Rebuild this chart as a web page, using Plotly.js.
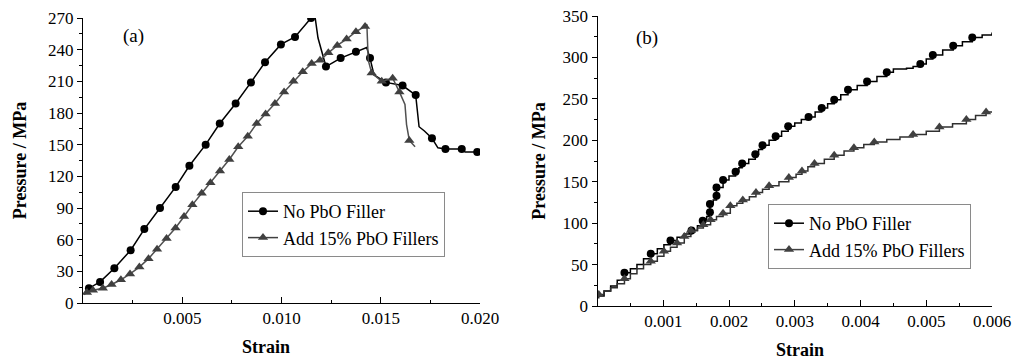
<!DOCTYPE html>
<html><head><meta charset="utf-8">
<script src="https://cdn.plot.ly/plotly-3.0.1.min.js"></script>
<style>html,body{margin:0;padding:0;background:#fff}#chart{width:1016px;height:363px}</style>
</head><body><div id="chart"></div>
<script>
// ---------- Panel (a): strain vs pressure (MPa) ----------
const seriesNames = ['No PbO Filler', 'Add 15% PbO Fillers'];

const aNoFillerLine = [[0.00005,8.5],[0.0003,14],[0.00086,20],[0.00158,33],[0.0024,50],[0.00309,70],[0.00388,90],[0.00467,110],[0.00536,130],[0.00618,150],[0.00689,170],[0.00769,189],[0.00846,209],[0.00917,228],[0.00997,245],[0.01068,252],[0.01149,270],[0.01169,271],[0.01184,251],[0.01209,233],[0.01224,224],[0.01298,232],[0.01375,238],[0.01429,242],[0.01446,232],[0.01466,216],[0.01526,209],[0.0161,206],[0.01676,197],[0.01686,182],[0.01693,167],[0.0172,163],[0.01758,156],[0.01788,147],[0.01826,146],[0.01908,146],[0.01925,143],[0.01986,143]];
const aNoFillerMarks = [[0.0003,14],[0.00086,20],[0.00158,33],[0.0024,50],[0.00309,70],[0.00388,90],[0.00467,110],[0.00536,130],[0.00618,150],[0.00689,170],[0.00769,189],[0.00846,209],[0.00917,228],[0.00997,245],[0.01068,252],[0.01149,270],[0.01224,224],[0.01298,232],[0.01375,238],[0.01446,232],[0.01526,209],[0.0161,206],[0.01676,197],[0.01758,156],[0.01826,146],[0.01908,146],[0.01986,143]];

const aPbOLine = [[0.00005,8],[0.0002,10],[0.0005,12],[0.001,14],[0.00144,17.5],[0.00191,22],[0.00237,27.5],[0.00284,34],[0.0033,42],[0.00373,51],[0.00421,61],[0.00466,71],[0.00509,82],[0.00551,93],[0.00598,104],[0.00642,114],[0.0069,125],[0.00737,136],[0.00782,148],[0.0083,158],[0.00875,170],[0.0092,179],[0.00967,189],[0.01013,200],[0.0106,210],[0.01107,219],[0.01152,227],[0.01194,230],[0.01236,237],[0.01281,244],[0.01328,250],[0.01375,257],[0.01421,262],[0.0143,264],[0.01437,230],[0.01454,218],[0.01505,210],[0.0156,213],[0.01594,200],[0.01622,188],[0.0163,169],[0.01644,154],[0.01673,148]];
const aPbOMarks = [[0.0002,10],[0.0005,12],[0.001,14],[0.00144,17.5],[0.00191,22],[0.00237,27.5],[0.00284,34],[0.0033,42],[0.00373,51],[0.00421,61],[0.00466,71],[0.00509,82],[0.00551,93],[0.00598,104],[0.00642,114],[0.0069,125],[0.00737,136],[0.00782,148],[0.0083,158],[0.00875,170],[0.0092,179],[0.00967,189],[0.01013,200],[0.0106,210],[0.01107,219],[0.01152,227],[0.01194,230],[0.01236,237],[0.01281,244],[0.01328,250],[0.01375,257],[0.01421,262],[0.01454,218],[0.01505,210],[0.0156,213],[0.01594,200],[0.01644,154]];

const aXTickVals = [0.005, 0.010, 0.015, 0.020];
const aXTickText = ['0.005', '0.010', '0.015', '0.020'];
const aYTickVals = [0, 30, 60, 90, 120, 150, 180, 210, 240, 270];

// ---------- Panel (b) ----------
const bNoFillerLine = [[0,12],[0.0001,18],[0.0002,24],[0.0003,31],[0.00041,40],[0.0005,45],[0.0006,50],[0.0007,57],[0.00081,63],[0.00091,69],[0.00101,74],[0.00111,79],[0.00121,83],[0.00132,87],[0.00143,91],[0.00152,97],[0.0016,103],[0.00166,108],[0.00171,113],[0.00171,123],[0.00176,128],[0.00181,133],[0.00181,143],[0.00191,152],[0.002,157],[0.0021,162],[0.00215,167],[0.0022,172],[0.0023,177],[0.0024,183],[0.00245,189],[0.00251,194],[0.00261,200],[0.00271,205],[0.0028,211],[0.0029,217],[0.003,221],[0.0031,225],[0.00321,228],[0.00331,234],[0.00341,239],[0.0035,244],[0.0036,249],[0.0037,255],[0.00381,261],[0.00395,266],[0.0041,271],[0.00425,277],[0.0044,282],[0.0045,286],[0.0047,287],[0.0048,289],[0.00491,292],[0.005,298],[0.0051,303],[0.00525,309],[0.00541,314],[0.00555,319],[0.0057,324],[0.00585,327],[0.006,330]];
const bNoFillerMarks = [[0.00041,40],[0.00081,63],[0.00111,79],[0.00143,91],[0.0016,103],[0.00171,113],[0.00171,123],[0.00181,133],[0.00181,143],[0.00191,152],[0.0021,162],[0.0022,172],[0.0024,183],[0.00251,194],[0.00271,205],[0.0029,217],[0.00321,228],[0.00341,239],[0.0036,249],[0.00381,261],[0.0041,271],[0.0044,282],[0.00491,292],[0.0051,303],[0.00541,314],[0.0057,324]];

const bPbOLine = [[0,10],[0.00002,14],[0.0001,18],[0.0002,22],[0.0003,27],[0.00041,33],[0.0005,39],[0.0006,45],[0.0007,50],[0.00081,54],[0.00091,60],[0.00101,66],[0.00111,71],[0.00121,76],[0.00132,84],[0.00142,91],[0.00152,94],[0.00161,98],[0.00172,104],[0.00181,108],[0.00191,112],[0.00202,121],[0.00212,124],[0.00221,128],[0.00231,132],[0.00241,137],[0.00251,141],[0.00261,145],[0.00276,150],[0.00291,155],[0.00302,159],[0.00311,163],[0.0032,168],[0.0033,172],[0.00345,177],[0.0036,182],[0.00375,187],[0.0039,191],[0.00405,195],[0.00421,198],[0.0044,201],[0.0046,204],[0.0048,207],[0.005,211],[0.0052,216],[0.0054,220],[0.00561,225],[0.00575,230],[0.00591,234],[0.006,235]];
const bPbOMarks = [[0.00002,14],[0.00041,33],[0.00081,54],[0.00101,66],[0.00121,76],[0.00132,84],[0.00142,91],[0.00161,98],[0.00172,104],[0.00191,112],[0.00202,121],[0.00221,128],[0.00241,137],[0.00261,145],[0.00291,155],[0.00311,163],[0.0033,172],[0.0036,182],[0.0039,191],[0.00421,198],[0.0048,207],[0.0052,216],[0.00561,225],[0.00591,234]];

const bXTickVals = [0.001, 0.002, 0.003, 0.004, 0.005, 0.006];
const bXTickText = ['0.001', '0.002', '0.003', '0.004', '0.005', '0.006'];
const bYTickVals = [0, 50, 100, 150, 200, 250, 300, 350];

// ---------- styling ----------
const FONT = 'Liberation Serif';
const BLACK = '#000000';
const GRAY = '#404040';
const xs = a => a.map(p => p[0]);
const ys = a => a.map(p => p[1]);

function lineTrace(d, color, xa, ya, shape) {
  return {x: xs(d), y: ys(d), xaxis: xa, yaxis: ya, mode: 'lines', showlegend: false,
          hoverinfo: 'skip', line: {color: color, width: 1.5, shape: shape || 'linear'}};
}
function markTrace(d, color, sym, size, xa, ya) {
  return {x: xs(d), y: ys(d), xaxis: xa, yaxis: ya, mode: 'markers', showlegend: false,
          marker: {color: color, symbol: sym, size: size}};
}
function legendTrace(name, color, sym, size, xa, ya, lg) {
  return {x: [null], y: [null], xaxis: xa, yaxis: ya, mode: 'lines+markers', name: name, legend: lg,
          line: {color: color, width: 1.5}, marker: {color: color, symbol: sym, size: size}};
}

const traces = [
  lineTrace(aNoFillerLine, BLACK, 'x', 'y'),
  markTrace(aNoFillerMarks, BLACK, 'circle', 8, 'x', 'y'),
  lineTrace(aPbOLine, '#505050', 'x', 'y'),
  markTrace(aPbOMarks, GRAY, 'triangle-up', 9, 'x', 'y'),
  legendTrace(seriesNames[0], BLACK, 'circle', 8, 'x', 'y', 'legend'),
  legendTrace(seriesNames[1], GRAY, 'triangle-up', 9, 'x', 'y', 'legend'),

  lineTrace(bNoFillerLine, BLACK, 'x2', 'y2', 'hv'),
  markTrace(bNoFillerMarks, BLACK, 'circle', 8, 'x2', 'y2'),
  lineTrace(bPbOLine, '#303030', 'x2', 'y2', 'hv'),
  markTrace(bPbOMarks, GRAY, 'triangle-up', 9, 'x2', 'y2'),
  legendTrace(seriesNames[0], BLACK, 'circle', 8, 'x2', 'y2', 'legend2'),
  legendTrace(seriesNames[1], GRAY, 'triangle-up', 9, 'x2', 'y2', 'legend2')
];

const W = 1016, H = 363;
const tickFont = {family: FONT, size: 17, color: '#000'};
const titleFont = {family: FONT, size: 18, color: '#000', weight: 'bold'};

function xAxis(domain, range, tv, tt, minorDt, anchor) {
  return {domain: domain, range: range, anchor: anchor, tickmode: 'array', tickvals: tv, ticktext: tt,
          ticks: 'inside', ticklen: 6, tickwidth: 1, tickcolor: '#000',
          minor: {ticks: 'inside', ticklen: 3, tickwidth: 1, tickcolor: '#000', tickmode: 'linear', tick0: 0, dtick: minorDt},
          showline: true, linecolor: '#000', linewidth: 1, showgrid: false, zeroline: false,
          tickfont: tickFont, automargin: false, fixedrange: true};
}
function yAxis(domain, range, tv, minorDt, anchor, standoff) {
  return {domain: domain, range: range, anchor: anchor, tickmode: 'array', tickvals: tv,
          ticks: 'outside', ticklen: 5, tickwidth: 1, tickcolor: '#000',
          minor: {ticks: 'outside', ticklen: 3, tickwidth: 1, tickcolor: '#000', tickmode: 'linear', tick0: 0, dtick: minorDt},
          showline: true, linecolor: '#000', linewidth: 1, showgrid: false, zeroline: false,
          tickfont: tickFont, automargin: false, fixedrange: true,
          title: {text: 'Pressure / MPa', font: titleFont, standoff: standoff}};
}

const legendBase = {xanchor: 'left', yanchor: 'top', bgcolor: '#fff', bordercolor: '#8a8a8a', borderwidth: 1,
                    font: {family: FONT, size: 18, color: '#000'}, tracegroupgap: 0, itemwidth: 30};

const layout = {
  width: W, height: H,
  margin: {l: 0, r: 0, t: 0, b: 0, pad: 0},
  paper_bgcolor: '#fff', plot_bgcolor: '#fff',
  showlegend: true,
  xaxis: xAxis([83 / W, 480 / W], [0, 0.02], aXTickVals, aXTickText, 0.0025, 'y'),
  yaxis: yAxis([1 - 303 / H, 1 - 18 / H], [0, 270], aYTickVals, 15, 'x', 16),
  xaxis2: xAxis([597.5 / W, 992 / W], [0, 0.006], bXTickVals, bXTickText, 0.0005, 'y2'),
  yaxis2: yAxis([1 - 306 / H, 1 - 16 / H], [0, 350], bYTickVals, 25, 'x2', 12),
  legend: Object.assign({x: 242 / W, y: 1 - 192 / H}, legendBase),
  legend2: Object.assign({x: 768 / W, y: 1 - 204 / H}, legendBase),
  annotations: [
    {text: '(a)', xref: 'paper', yref: 'paper', x: 133 / W, y: 1 - 36 / H, xanchor: 'center', yanchor: 'middle', showarrow: false,
     font: {family: FONT, size: 19, color: '#000'}},
    {text: '(b)', xref: 'paper', yref: 'paper', x: 647 / W, y: 1 - 38 / H, xanchor: 'center', yanchor: 'middle', showarrow: false,
     font: {family: FONT, size: 19, color: '#000'}},
    {text: 'Strain', xref: 'paper', yref: 'paper', x: 266 / W, y: 1 - 347 / H, xanchor: 'center', yanchor: 'middle', showarrow: false, font: titleFont},
    {text: 'Strain', xref: 'paper', yref: 'paper', x: 800 / W, y: 1 - 350 / H, xanchor: 'center', yanchor: 'middle', showarrow: false, font: titleFont}
  ]
};

Plotly.newPlot('chart', traces, layout, {displayModeBar: false, staticPlot: true});
</script>
</body></html>
